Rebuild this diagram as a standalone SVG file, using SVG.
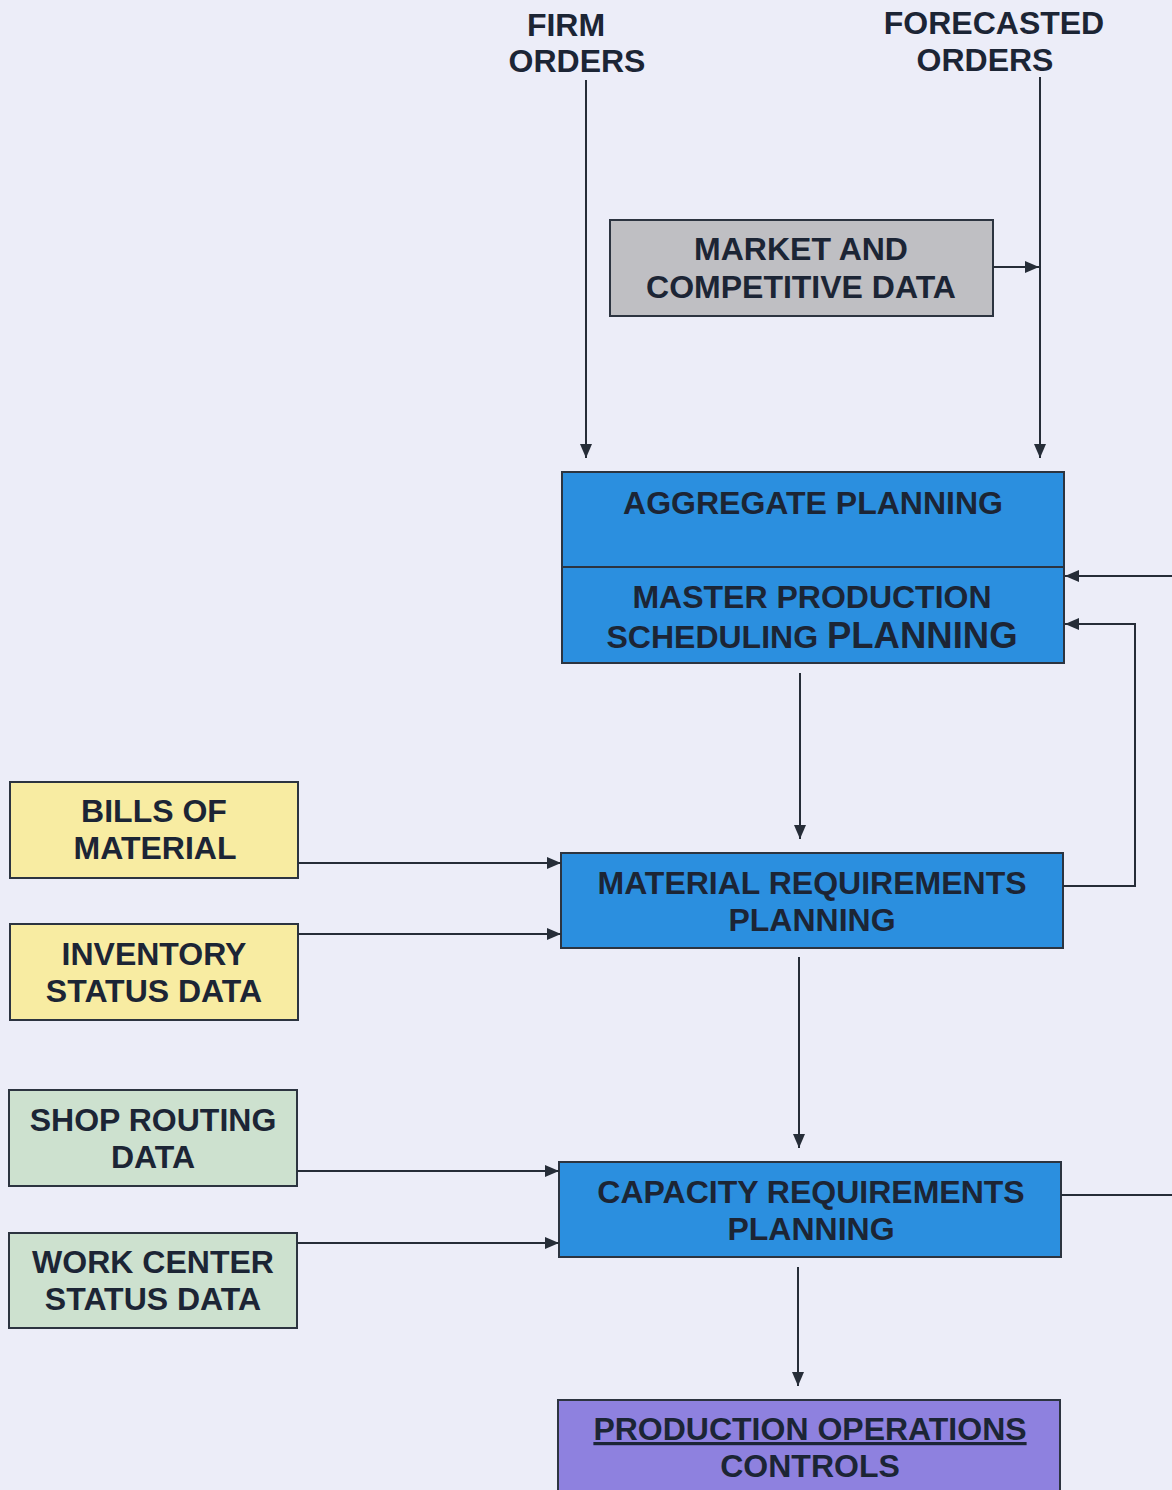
<svg xmlns="http://www.w3.org/2000/svg" width="1172" height="1490" viewBox="0 0 1172 1490">
  <style>
    .t { font-family: "Liberation Sans", Arial, sans-serif; font-weight: bold; font-size: 32px; fill: #1c2535; text-anchor: middle; }
    .box { stroke: #2c3440; stroke-width: 2; }
    .blue { fill: #2b8fdf; }
    .gray { fill: #bfbfc3; }
    .yellow { fill: #f8eca2; }
    .green { fill: #cde1cf; }
    .purple { fill: #8e81df; }
    .ln { fill: none; stroke: #262d38; stroke-width: 2; }
  </style>
  <defs>
    <marker id="arrow" viewBox="0 0 14 12" refX="14" refY="6" markerWidth="14" markerHeight="12" markerUnits="userSpaceOnUse" orient="auto">
      <path d="M0,0 L14,6 L0,12 Z" fill="#262d38"/>
    </marker>
  </defs>

  <rect width="1172" height="1490" fill="#ecedf8"/>

  <!-- input labels at the top -->
  <g id="firm-orders">
    <text class="t" x="566" y="36">FIRM</text>
    <text class="t" x="577" y="72">ORDERS</text>
  </g>
  <g id="forecasted-orders">
    <text class="t" x="994" y="34">FORECASTED</text>
    <text class="t" x="985" y="71">ORDERS</text>
  </g>

  <g id="market-data">
    <rect class="box gray" x="610" y="220" width="383" height="96"/>
    <text class="t" x="801" y="260">MARKET AND</text>
    <text class="t" x="801" y="298">COMPETITIVE DATA</text>
  </g>

  <g id="aggregate-mps">
    <rect class="box blue" x="562" y="472" width="502" height="191"/>
    <line class="box" x1="562" y1="567" x2="1064" y2="567"/>
    <text class="t" x="813" y="514">AGGREGATE PLANNING</text>
    <text class="t" x="812" y="608">MASTER PRODUCTION</text>
    <text class="t" x="812" y="648">SCHEDULING <tspan font-size="36.5px">PLANNING</tspan></text>
  </g>

  <g id="bills-of-material">
    <rect class="box yellow" x="10" y="782" width="288" height="96"/>
    <text class="t" x="154" y="822">BILLS OF</text>
    <text class="t" x="155" y="859">MATERIAL</text>
  </g>
  <g id="inventory-status">
    <rect class="box yellow" x="10" y="924" width="288" height="96"/>
    <text class="t" x="154" y="965">INVENTORY</text>
    <text class="t" x="154" y="1002">STATUS DATA</text>
  </g>

  <g id="mrp">
    <rect class="box blue" x="561" y="853" width="502" height="95"/>
    <text class="t" x="812" y="894">MATERIAL REQUIREMENTS</text>
    <text class="t" x="812" y="931">PLANNING</text>
  </g>

  <g id="shop-routing">
    <rect class="box green" x="9" y="1090" width="288" height="96"/>
    <text class="t" x="153" y="1131">SHOP ROUTING</text>
    <text class="t" x="153" y="1168">DATA</text>
  </g>
  <g id="work-center-status">
    <rect class="box green" x="9" y="1233" width="288" height="95"/>
    <text class="t" x="153" y="1273">WORK CENTER</text>
    <text class="t" x="153" y="1310">STATUS DATA</text>
  </g>

  <g id="crp">
    <rect class="box blue" x="559" y="1162" width="502" height="95"/>
    <text class="t" x="811" y="1203">CAPACITY REQUIREMENTS</text>
    <text class="t" x="811" y="1240">PLANNING</text>
  </g>

  <g id="production-controls">
    <rect class="box purple" x="558" y="1400" width="502" height="100"/>
    <text class="t" x="810" y="1440" text-decoration="underline">PRODUCTION OPERATIONS</text>
    <text class="t" x="810" y="1477">CONTROLS</text>
  </g>

  <!-- connectors -->
  <g id="connectors">
    <line class="ln" x1="586" y1="80" x2="586" y2="458" marker-end="url(#arrow)"/>
    <line class="ln" x1="1040" y1="77" x2="1040" y2="458" marker-end="url(#arrow)"/>
    <line class="ln" x1="993" y1="267" x2="1039" y2="267" marker-end="url(#arrow)"/>
    <line class="ln" x1="1172" y1="576" x2="1065" y2="576" marker-end="url(#arrow)"/>
    <polyline class="ln" points="1063,886 1135,886 1135,624 1065,624" marker-end="url(#arrow)"/>
    <line class="ln" x1="800" y1="673" x2="800" y2="839" marker-end="url(#arrow)"/>
    <line class="ln" x1="298" y1="863" x2="561" y2="863" marker-end="url(#arrow)"/>
    <line class="ln" x1="298" y1="934" x2="561" y2="934" marker-end="url(#arrow)"/>
    <line class="ln" x1="799" y1="957" x2="799" y2="1148" marker-end="url(#arrow)"/>
    <line class="ln" x1="297" y1="1171" x2="559" y2="1171" marker-end="url(#arrow)"/>
    <line class="ln" x1="297" y1="1243" x2="559" y2="1243" marker-end="url(#arrow)"/>
    <line class="ln" x1="1061" y1="1195" x2="1172" y2="1195"/>
    <line class="ln" x1="798" y1="1267" x2="798" y2="1386" marker-end="url(#arrow)"/>
  </g>
</svg>
